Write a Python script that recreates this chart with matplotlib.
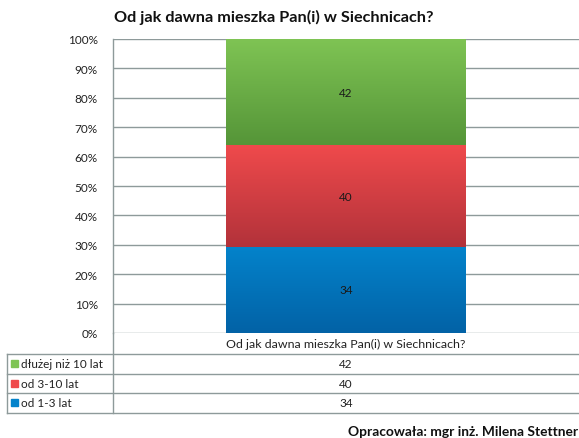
import numpy as np
import matplotlib
matplotlib.use("Agg")
import matplotlib.pyplot as plt
from matplotlib.colors import LinearSegmentedColormap

plt.rcParams['font.family'] = ['Lato', 'DejaVu Sans']

title = "Od jak dawna mieszka Pan(i) w Siechnicach?"
category = "Od jak dawna mieszka Pan(i) w Siechnicach?"
series_names = ["od 1-3 lat", "od 3-10 lat", "dłużej niż 10 lat"]
series_values = [34, 40, 42]
series_top = ["#0483CB", "#EF4A4C", "#7FC454"]
series_bottom = ["#0262A6", "#B2323A", "#559538"]
yticks = [0, 10, 20, 30, 40, 50, 60, 70, 80, 90, 100]
footer = "Opracowała: mgr inż. Milena Stettner"

W, H = 579, 439
fig = plt.figure(figsize=(W / 100, H / 100), dpi=100)

def fx(px):
    return px / W

def fy(py):
    return 1 - py / H

ax_left, ax_right, ax_top, ax_bottom = 113, 579, 40, 334
ax = fig.add_axes([fx(ax_left), fy(ax_bottom), fx(ax_right - ax_left), fy(ax_top) - fy(ax_bottom)])

total = sum(series_values)
perc = [v / total * 100 for v in series_values]
bottom = 0
bar_w = 0.515
for name, p, v, ct, cb in zip(series_names, perc, series_values, series_top, series_bottom):
    bars = ax.bar(0, p, bar_w, bottom=bottom, color=cb, zorder=2, linewidth=0)
    patch = bars[0]
    cmap = LinearSegmentedColormap.from_list(name, [cb, ct])
    grad = np.linspace(0, 1, 256).reshape(-1, 1)
    im = ax.imshow(grad, cmap=cmap, aspect='auto', origin='lower',
                   extent=[-bar_w / 2, bar_w / 2, bottom, bottom + p], zorder=3)
    im.set_clip_path(patch)
    ax.text(0, bottom + p / 2, str(v), ha='center', va='center', fontsize=8.5, color='#1a1a1a', zorder=4)
    bottom += p

ax.set_xlim(-0.5, 0.5)
ax.set_ylim(0, 100)
ax.set_yticks(yticks)
ax.set_yticklabels([f"{t}%" for t in yticks], fontsize=8.5, color='#222222')
ax.set_xticks([])
ax.tick_params(axis='y', length=0, pad=11)
ax.yaxis.grid(True, color='#8E9A9A', linewidth=1)
ax.set_axisbelow(True)
for s in ['top', 'right', 'bottom']:
    ax.spines[s].set_visible(False)
ax.spines['left'].set_color('#8E9A9A')
ax.spines['left'].set_linewidth(1)

fig.text(fx(274), fy(17), title, ha='center', va='center', fontsize=11.7, fontweight='bold', color='#111111')

# data table
line_c = '#8E9A9A'
row_lines = [355, 374.5, 394, 413.5]
tab_left = 7
fig.add_artist(plt.Line2D([fx(ax_left), fx(ax_left)], [fy(ax_bottom), fy(row_lines[-1])], color=line_c, lw=1))
fig.add_artist(plt.Line2D([fx(tab_left), fx(tab_left)], [fy(row_lines[0]), fy(row_lines[-1])], color=line_c, lw=1))
for yl in row_lines:
    fig.add_artist(plt.Line2D([fx(tab_left), fx(W)], [fy(yl), fy(yl)], color=line_c, lw=1))

col_center = (ax_left + ax_right) / 2
fig.text(fx(col_center), fy(344.5), category, ha='center', va='center', fontsize=8.9, color='#222222')
rows = list(zip(series_names, series_values, series_top))[::-1]
for i, (name, v, c) in enumerate(rows):
    yc = (row_lines[i] + row_lines[i + 1]) / 2
    fig.add_artist(plt.Rectangle((fx(tab_left + 4), fy(yc + 3.5)), fx(7), fy(0) - fy(7), color=c, transform=fig.transFigure))
    fig.text(fx(tab_left + 14), fy(yc), name, ha='left', va='center', fontsize=8.5, color='#222222')
    fig.text(fx(col_center), fy(yc), str(v), ha='center', va='center', fontsize=8.5, color='#222222')

fig.text(fx(578), fy(432), footer, ha='right', va='center', fontsize=9.9, fontweight='bold', color='#111111')

fig.savefig("out.png", dpi=100)
